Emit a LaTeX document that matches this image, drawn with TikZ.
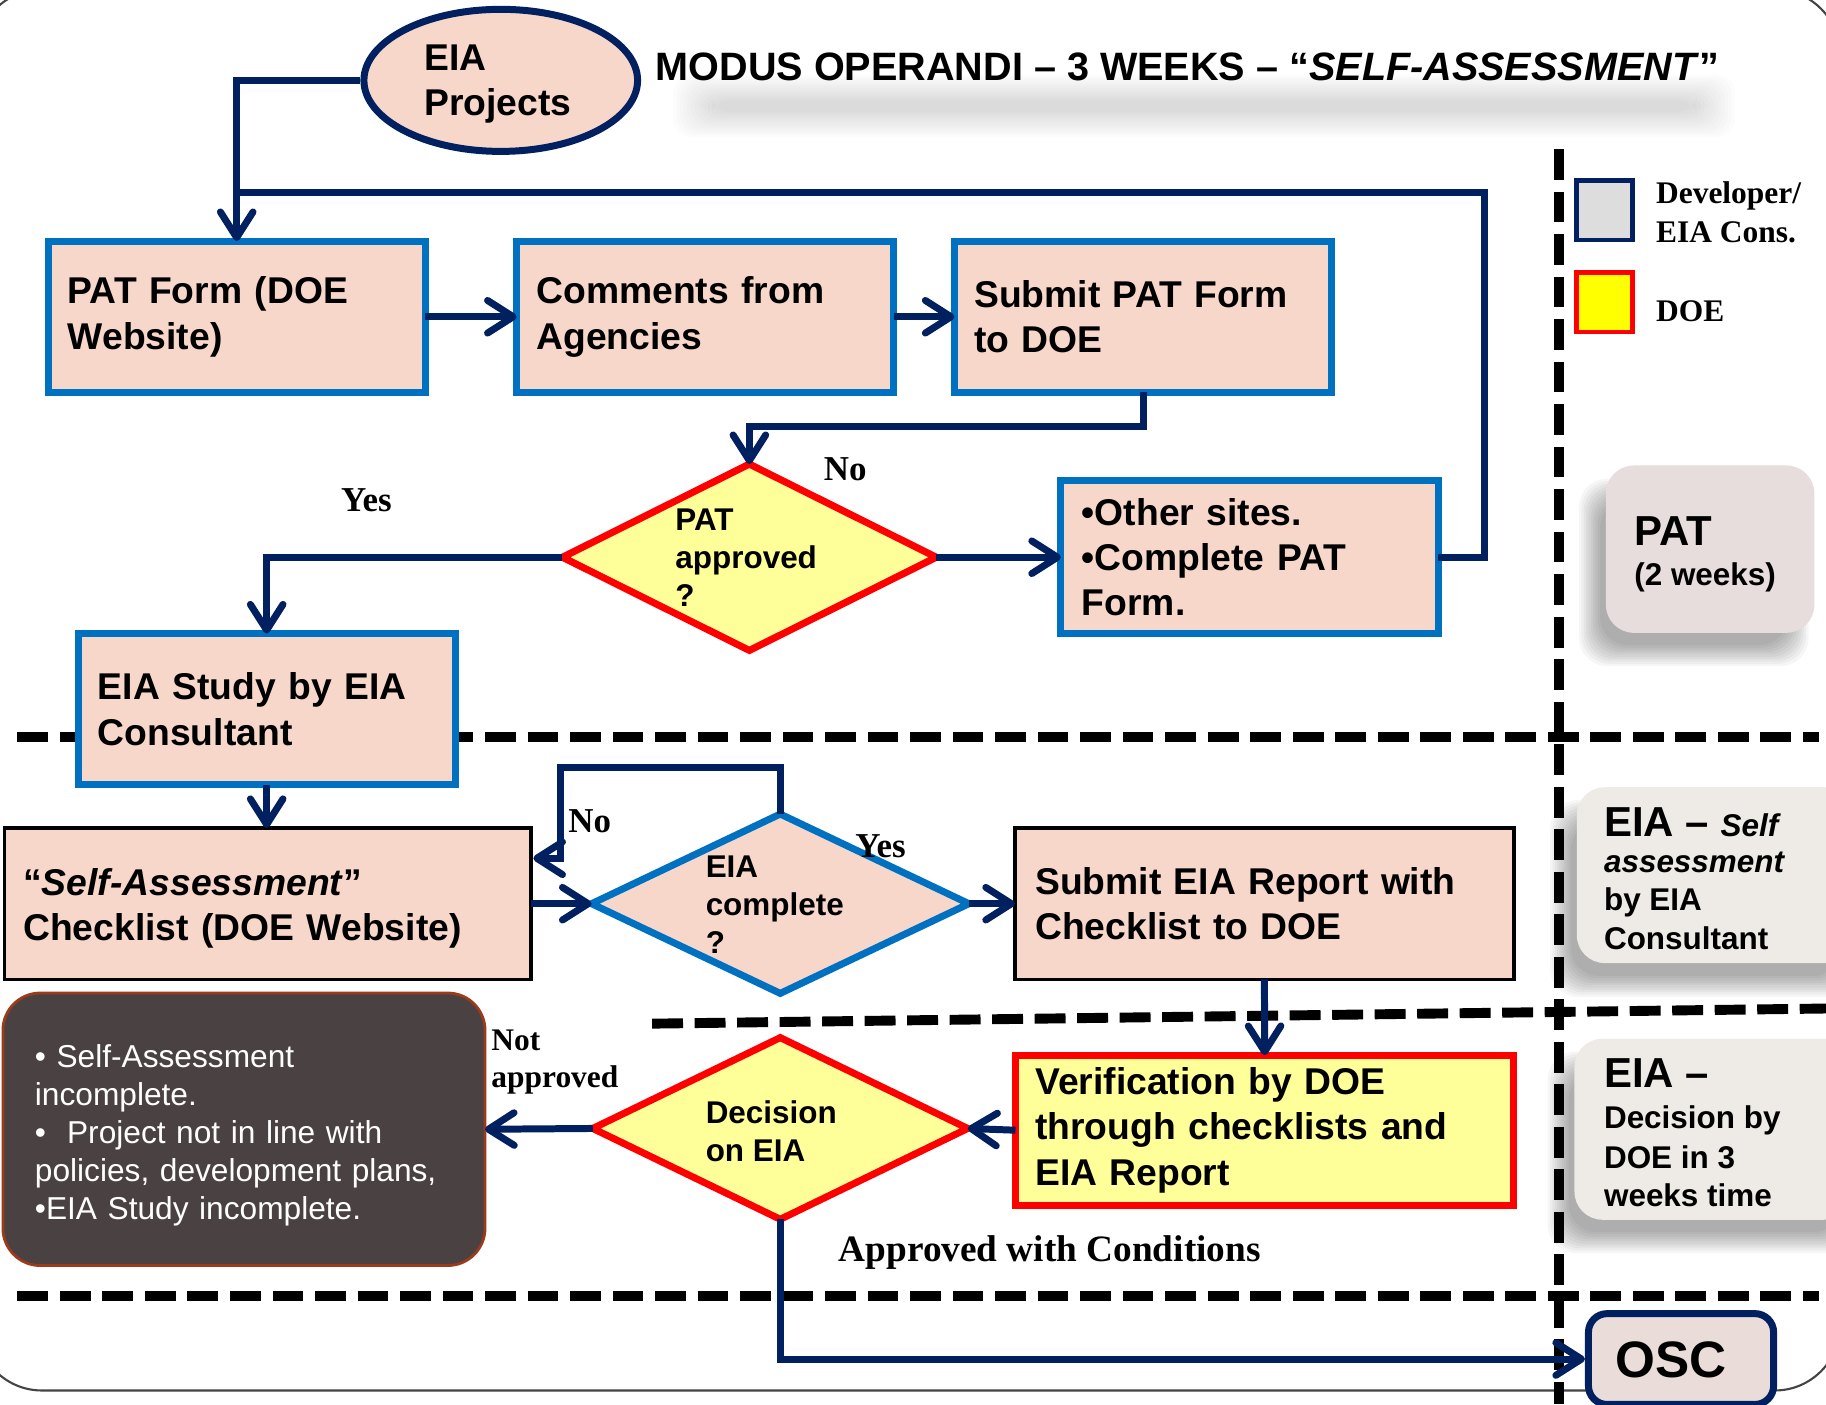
\documentclass[tikz,border=0pt]{standalone}
\usepackage{fontspec}
\setmainfont{Liberation Sans}
\newfontfamily\lserif{Liberation Serif}
\usetikzlibrary{arrows.meta,shapes.geometric,calc}
\definecolor{navy}{HTML}{002060}
\definecolor{eblue}{HTML}{0070C0}
\definecolor{peach}{HTML}{F8D7CB}
\definecolor{lyellow}{HTML}{FFFF99}
\definecolor{pyellow}{HTML}{FFFF00}
\definecolor{dred}{HTML}{FF0000}
\definecolor{darkbg}{HTML}{4A4142}
\definecolor{darkbd}{HTML}{9A3B1B}
\definecolor{panelpat}{HTML}{E8DDDD}
\definecolor{paneleia}{HTML}{EEEAE5}
\definecolor{oscfill}{HTML}{E9DCD9}
\definecolor{lggrey}{HTML}{DDDDDD}
\definecolor{framec}{HTML}{444444}

\newcommand\softshade[5]{%
  \foreach \k in {0,...,9}{%
    \fill[black, opacity=#5, rounded corners=12pt] ({#1-9+2*\k},{#2-9+2*\k}) rectangle ({#3+9-2*\k},{#4+9-2*\k});
  }}

\tikzset{
  cn/.style={draw=navy, line width=3pt},
  arr/.style={cn, -{Straight Barb[length=11pt,width=14pt,round]}},
  flowbox/.style={draw=eblue, line width=3pt, fill=peach, align=left, inner ysep=0pt, inner xsep=8.5pt, outer sep=0pt, text width=145pt, minimum height=65pt, font=\bfseries\fontsize{16pt}{19.5pt}\selectfont},
  thinbox/.style={flowbox, draw=black, line width=1.5pt},
  doebox/.style={flowbox, draw=dred, fill=lyellow},
  decision/.style={diamond, line width=3pt, inner sep=0pt, outer sep=0pt},
  dtext/.style={align=left, inner sep=0pt, font=\bfseries\fontsize{13.5pt}{16.3pt}\selectfont},
  lbl/.style={anchor=base west, inner sep=0pt, font=\lserif\bfseries\fontsize{15pt}{18pt}\selectfont},
  sidetxt/.style={anchor=base west, inner sep=0pt, font=\bfseries\fontsize{13.5pt}{16pt}\selectfont},
  sidebig/.style={anchor=base west, inner sep=0pt, font=\bfseries\fontsize{18pt}{20pt}\selectfont},
  panel/.style={rounded corners=12pt, inner sep=0pt, outer sep=0pt},
  dashln/.style={line width=4.25pt, dash pattern=on 13.25pt off 5pt},
}

\begin{document}
\begin{tikzpicture}[x=0.5pt,y=-0.5pt]
\useasboundingbox (0,0) rectangle (1568,1206);
\begin{scope}
\clip (0,0) rectangle (1568,1206);
\fill[white] (0,0) rectangle (1568,1206);
\draw[framec, line width=0.9pt, rounded corners=28pt] (-20,-9) rectangle (1580,1194);

% title shadow (soft)
\foreach \k in {0,...,11}{\fill[black, opacity=0.012, rounded corners=8pt] ({578+3*\k},{64+2*\k}) rectangle ({1490-3*\k},{118-2*\k});}

% panel shadows
\softshade{1365}{420}{1544}{563}{0.035}
\softshade{1340}{696}{1590}{847}{0.035}
\softshade{1338}{912}{1590}{1067}{0.035}

% dashed separators
\draw[dashln] (15,633) -- (1562,633);
\draw[dashln] (560,879) -- (1568,866);
\draw[dashln] (15,1113) -- (1562,1113);
\draw[dashln] (1339,128) -- (1339,1206);

% title
\node[anchor=base west, inner sep=0pt, font=\bfseries\fontsize{17pt}{20pt}\selectfont] (title) at (562.7,69.4) {MODUS OPERANDI – 3 WEEKS – “\textit{SELF-ASSESSMENT}”};

% start ellipse
\node[draw=navy, line width=3pt, fill=peach, ellipse, minimum width=117.5pt, minimum height=61pt, inner sep=0pt] (ell) at (430,69) {};
\node[align=left, inner sep=0pt, font=\bfseries\fontsize{16pt}{19.5pt}\selectfont] (elltxt) at (427.5,72) {EIA\\Projects};

% boxes
\node[flowbox] (patform) at (203.25,272) {PAT Form (DOE\\Website)};
\node[flowbox] (comments) at (605.65,272) {Comments from\\Agencies};
\node[flowbox] (submitpat) at (981.6,272) {Submit PAT Form\\to DOE};
\node[flowbox, minimum height=65.5pt, inner xsep=9pt, text width=144pt] (other) at (1073,478.5) {•Other sites.\\•Complete PAT\\Form.};
\node[flowbox] (eiastudy) at (229,609) {EIA Study by EIA\\Consultant};
\node[thinbox, text width=210pt, inner xsep=8pt] (checklist) at (230,776) {\rule{0pt}{15.5pt}“\textit{Self-Assessment}”\\Checklist (DOE Website)};
\node[thinbox, text width=196.75pt, inner xsep=8.75pt] (submiteia) at (1085.75,776) {Submit EIA Report with\\Checklist to DOE};
\node[doebox, text width=197pt, inner xsep=8.5pt, minimum height=64.5pt] (verif) at (1086,970.5) {Verification by DOE\\through checklists and\\EIA Report};
\node[draw=darkbd, line width=1.2pt, fill=darkbg, rounded corners=16pt, text=white, align=left, text width=179.5pt, inner xsep=13.75pt, inner ysep=0pt, minimum height=117pt, outer sep=0pt, font=\fontsize{13.6pt}{16.3pt}\selectfont] (dark) at (209.5,969.7) {\rule{0pt}{15pt}• Self-Assessment\\incomplete.\\•\ \ Project not in line with\\policies, development plans,\\•EIA Study incomplete.};

% decisions
\node[decision, draw=dred, fill=lyellow, minimum width=160.5pt, minimum height=80pt] (patd) at (643.5,478.5) {};
\node[dtext] (patdt) at (640.75,478.8) {PAT\\approved\\?};
\node[decision, draw=eblue, fill=peach, minimum width=162pt, minimum height=77pt] (eiad) at (670,776) {};
\node[dtext] (eiadt) at (665.3,777) {EIA\\complete\\?};
\node[decision, draw=dred, fill=lyellow, minimum width=161pt, minimum height=78pt] (decd) at (670,969) {};
\node[dtext] (decdt) at (662.3,971) {Decision\\on EIA};

% OSC
\node[draw=navy, line width=3pt, fill=oscfill, rounded corners=8pt, minimum width=79.5pt, minimum height=39pt, inner sep=0pt] (osc) at (1443.5,1167) {};
\node[anchor=base west, inner sep=0pt, font=\bfseries\fontsize{22pt}{24pt}\selectfont] (osct) at (1387,1183) {OSC};

% side panels
\node[panel, fill=panelpat, minimum width=89.5pt, minimum height=71.85pt] (patpanel) at (1468.5,471.55) {};
\node[panel, fill=paneleia, minimum width=118pt, minimum height=75.5pt] (selfpanel) at (1472,751.5) {};
\node[panel, fill=paneleia, minimum width=119pt, minimum height=77.7pt] (decpanel) at (1471,969.7) {};
\node[sidebig] (p1a) at (1403,468) {PAT};
\node[sidetxt] (p1b) at (1403,503) {(2 weeks)};
\node[sidebig] (p2a) at (1377,718) {EIA – {\fontsize{13.5pt}{16pt}\selectfont\textit{Self}}};
\node[sidetxt, font=\bfseries\itshape\fontsize{13.5pt}{16pt}\selectfont] (p2b) at (1377,749) {assessment};
\node[sidetxt] (p2c) at (1377,782) {by EIA};
\node[sidetxt] (p2d) at (1377,815) {Consultant};
\node[sidebig] (p3a) at (1377,934) {EIA –};
\node[sidetxt] (p3b) at (1377,969) {Decision by};
\node[sidetxt] (p3c) at (1377,1003) {DOE in 3};
\node[sidetxt] (p3d) at (1377,1036) {weeks time};

% legend
\node[draw=navy, line width=2pt, fill=lggrey, minimum width=24pt, minimum height=25.5pt, inner sep=0pt] (lgdev) at (1378,180.5) {};
\node[draw=dred, line width=2pt, fill=pyellow, minimum width=24pt, minimum height=25.5pt, inner sep=0pt] (lgdoe) at (1378,259.5) {};
\node[lbl, font=\lserif\bfseries\fontsize{13.5pt}{16pt}\selectfont] (lg1a) at (1421.7,175) {Developer/};
\node[lbl, font=\lserif\bfseries\fontsize{13.5pt}{16pt}\selectfont] (lg1b) at (1421.7,208) {EIA Cons.};
\node[lbl, font=\lserif\bfseries\fontsize{13.5pt}{16pt}\selectfont] (lg2) at (1421.7,276) {DOE};

% connectors
\coordinate (lj) at (203.25,165);
\coordinate (c1) at (981.6,366.4);
\coordinate (nl) at (481,659);
\coordinate (nt) at (458,737);
\draw[arr] (ell.west) -| (patform.north);
\draw[cn] (other.east) -- ++(40,0) |- (lj);
\draw[arr] (patform.east) -- (comments.west);
\draw[arr] (comments.east) -- (submitpat.west);
\draw[arr] (submitpat.south) -- (c1) -| (patd.north);
\draw[arr] (patd.east) -- (other.west);
\draw[arr] (patd.west) -| (eiastudy.north);
\draw[arr] (eiastudy.south) -- (eiastudy.south |- checklist.north);
\draw[arr] (checklist.east |- eiad.west) -- (eiad.west);
\draw[arr] (eiad.north) |- (nl) |- (nt);
\draw[arr] (eiad.east) -- (submiteia.west);
\draw[arr] (submiteia.south) -- (verif.north);
\draw[arr] (verif.west) -- (decd.east);
\draw[arr] (decd.west) -- (dark.east);
\draw[arr] (decd.south) |- (osc.west);

% labels
\node[lbl] (lno1) at (707,412.7) {No};
\node[lbl] (lyes1) at (292.6,438.9) {Yes};
\node[lbl] (lno2) at (487.6,715) {No};
\node[lbl] (lyes2) at (734,736) {Yes};
\node[lbl, font=\lserif\bfseries\fontsize{13.5pt}{16.5pt}\selectfont] (lnot1) at (421.6,902) {Not};
\node[lbl, font=\lserif\bfseries\fontsize{13.5pt}{16.5pt}\selectfont] (lnot2) at (421.6,934) {approved};
\node[lbl, font=\lserif\bfseries\fontsize{16pt}{19pt}\selectfont] (lapp) at (720,1083) {Approved with Conditions};
\end{scope}
\end{tikzpicture}
\end{document}
